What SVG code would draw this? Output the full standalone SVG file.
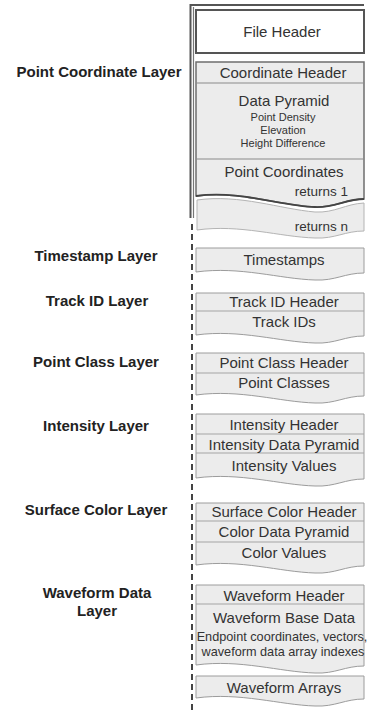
<svg xmlns="http://www.w3.org/2000/svg" width="370" height="712" viewBox="0 0 370 712">
<style>
.box{fill:#ececec;stroke:#9c9c9c;stroke-width:1}
.dv{stroke:#a4a4a4;stroke-width:1;fill:none}
.t{font-family:"Liberation Sans",Arial,sans-serif;font-size:15px;fill:#333;text-anchor:middle}
.s{font-size:11px}
.m{font-size:12.7px}
.r{font-size:13.5px;text-anchor:end}
.lbl{font-family:"Liberation Sans",Arial,sans-serif;font-weight:bold;font-size:15px;fill:#222;text-anchor:middle}
</style>
<rect width="370" height="712" fill="#fff"/>
<g id="spine" fill="none">
<path d="M364,5 H190.5 V218" stroke="#555" stroke-width="2"/>
<path d="M193.5,7 V218" stroke="#777" stroke-width="1.2"/>
<path d="M192,224 V712" stroke="#444" stroke-width="2" stroke-dasharray="6,4"/>
</g>
<g id="labels">
<text class="lbl" x="99" y="77">Point Coordinate Layer</text>
<text class="lbl" x="96" y="261">Timestamp Layer</text>
<text class="lbl" x="97" y="306">Track ID Layer</text>
<text class="lbl" x="96" y="367">Point Class Layer</text>
<text class="lbl" x="96" y="431">Intensity Layer</text>
<text class="lbl" x="96" y="515">Surface Color Layer</text>
<text class="lbl" x="97" y="598">Waveform Data</text>
<text class="lbl" x="97" y="616">Layer</text>
</g>
<g id="file-header">
<rect x="196" y="10" width="168" height="43" fill="#fff" stroke="#555" stroke-width="2"/>
<text class="t" x="282" y="37">File Header</text>
</g>
<g id="returns-n">
<path class="box" style="stroke:#b4b4b4" d="M197,200 C240,194 280,209 315,212 C335,213 345,204 364,203 V231 C345,231 335,239 315,238 C280,237 240,224 197,230 Z"/>
<text class="t r" x="348" y="231">returns n</text>
</g>
<g id="point-coordinate-layer">
<path class="box" style="stroke:#6e6e6e;stroke-width:1.5" d="M196,62 H364 V199 C345,199 335,208 315,207 C280,206 240,190 196,196 Z"/>
<path class="dv" style="stroke:#8a8a8a" d="M196,83 H364 M196,159 H364"/>
<path fill="none" stroke="#444" stroke-width="1.8" d="M364,199 C345,199 335,208 315,207 C280,206 240,190 196,196"/>
<text class="t" x="283" y="78">Coordinate Header</text>
<text class="t" x="284" y="106">Data Pyramid</text>
<text class="t s" x="283" y="121">Point Density</text>
<text class="t s" x="283" y="134">Elevation</text>
<text class="t s" x="283" y="147">Height Difference</text>
<text class="t" x="284" y="177">Point Coordinates</text>
<text class="t r" x="348" y="196">returns 1</text>
</g>
<g id="timestamp-layer">
<path class="box" d="M196,248 H364 V273 C345,273 335,281 315,280 C280,279 240,266 196,272 Z"/>
<text class="t" x="284" y="265">Timestamps</text>
</g>
<g id="track-id-layer">
<path class="box" d="M196,293 H364 V336 C345,336 335,344 315,343 C280,342 240,329 196,335 Z"/>
<path class="dv" d="M196,311 H364"/>
<text class="t" x="284" y="307">Track ID Header</text>
<text class="t" x="284" y="327">Track IDs</text>
</g>
<g id="point-class-layer">
<path class="box" d="M196,353 H364 V396 C345,396 335,404 315,403 C280,402 240,389 196,395 Z"/>
<path class="dv" d="M196,373 H364"/>
<text class="t" x="284" y="368">Point Class Header</text>
<text class="t" x="284" y="388">Point Classes</text>
</g>
<g id="intensity-layer">
<path class="box" d="M196,414 H364 V479 C345,479 335,487 315,486 C280,485 240,472 196,478 Z"/>
<path class="dv" d="M196,434 H364 M196,453 H364"/>
<text class="t" x="284" y="430">Intensity Header</text>
<text class="t" x="284" y="450">Intensity Data Pyramid</text>
<text class="t" x="284" y="471">Intensity Values</text>
</g>
<g id="surface-color-layer">
<path class="box" d="M196,503 H364 V566 C345,566 335,574 315,573 C280,572 240,559 196,565 Z"/>
<path class="dv" d="M196,521 H364 M196,542 H364"/>
<text class="t" x="284" y="517">Surface Color Header</text>
<text class="t" x="284" y="537">Color Data Pyramid</text>
<text class="t" x="284" y="558">Color Values</text>
</g>
<g id="waveform-data-layer">
<path class="box" d="M196,585 H364 V666 C345,666 335,674 315,673 C280,672 240,659 196,665 Z"/>
<path class="dv" d="M196,604 H364"/>
<text class="t" x="284" y="601">Waveform Header</text>
<text class="t" x="284" y="623">Waveform Base Data</text>
<text class="t m" x="282" y="641">Endpoint coordinates, vectors,</text>
<text class="t m" x="283" y="656">waveform data array indexes</text>
</g>
<g id="waveform-arrays">
<path class="box" d="M196,676 H364 V699 C345,699 335,707 315,706 C280,705 240,692 196,698 Z"/>
<text class="t" x="284" y="693">Waveform Arrays</text>
</g>
</svg>
